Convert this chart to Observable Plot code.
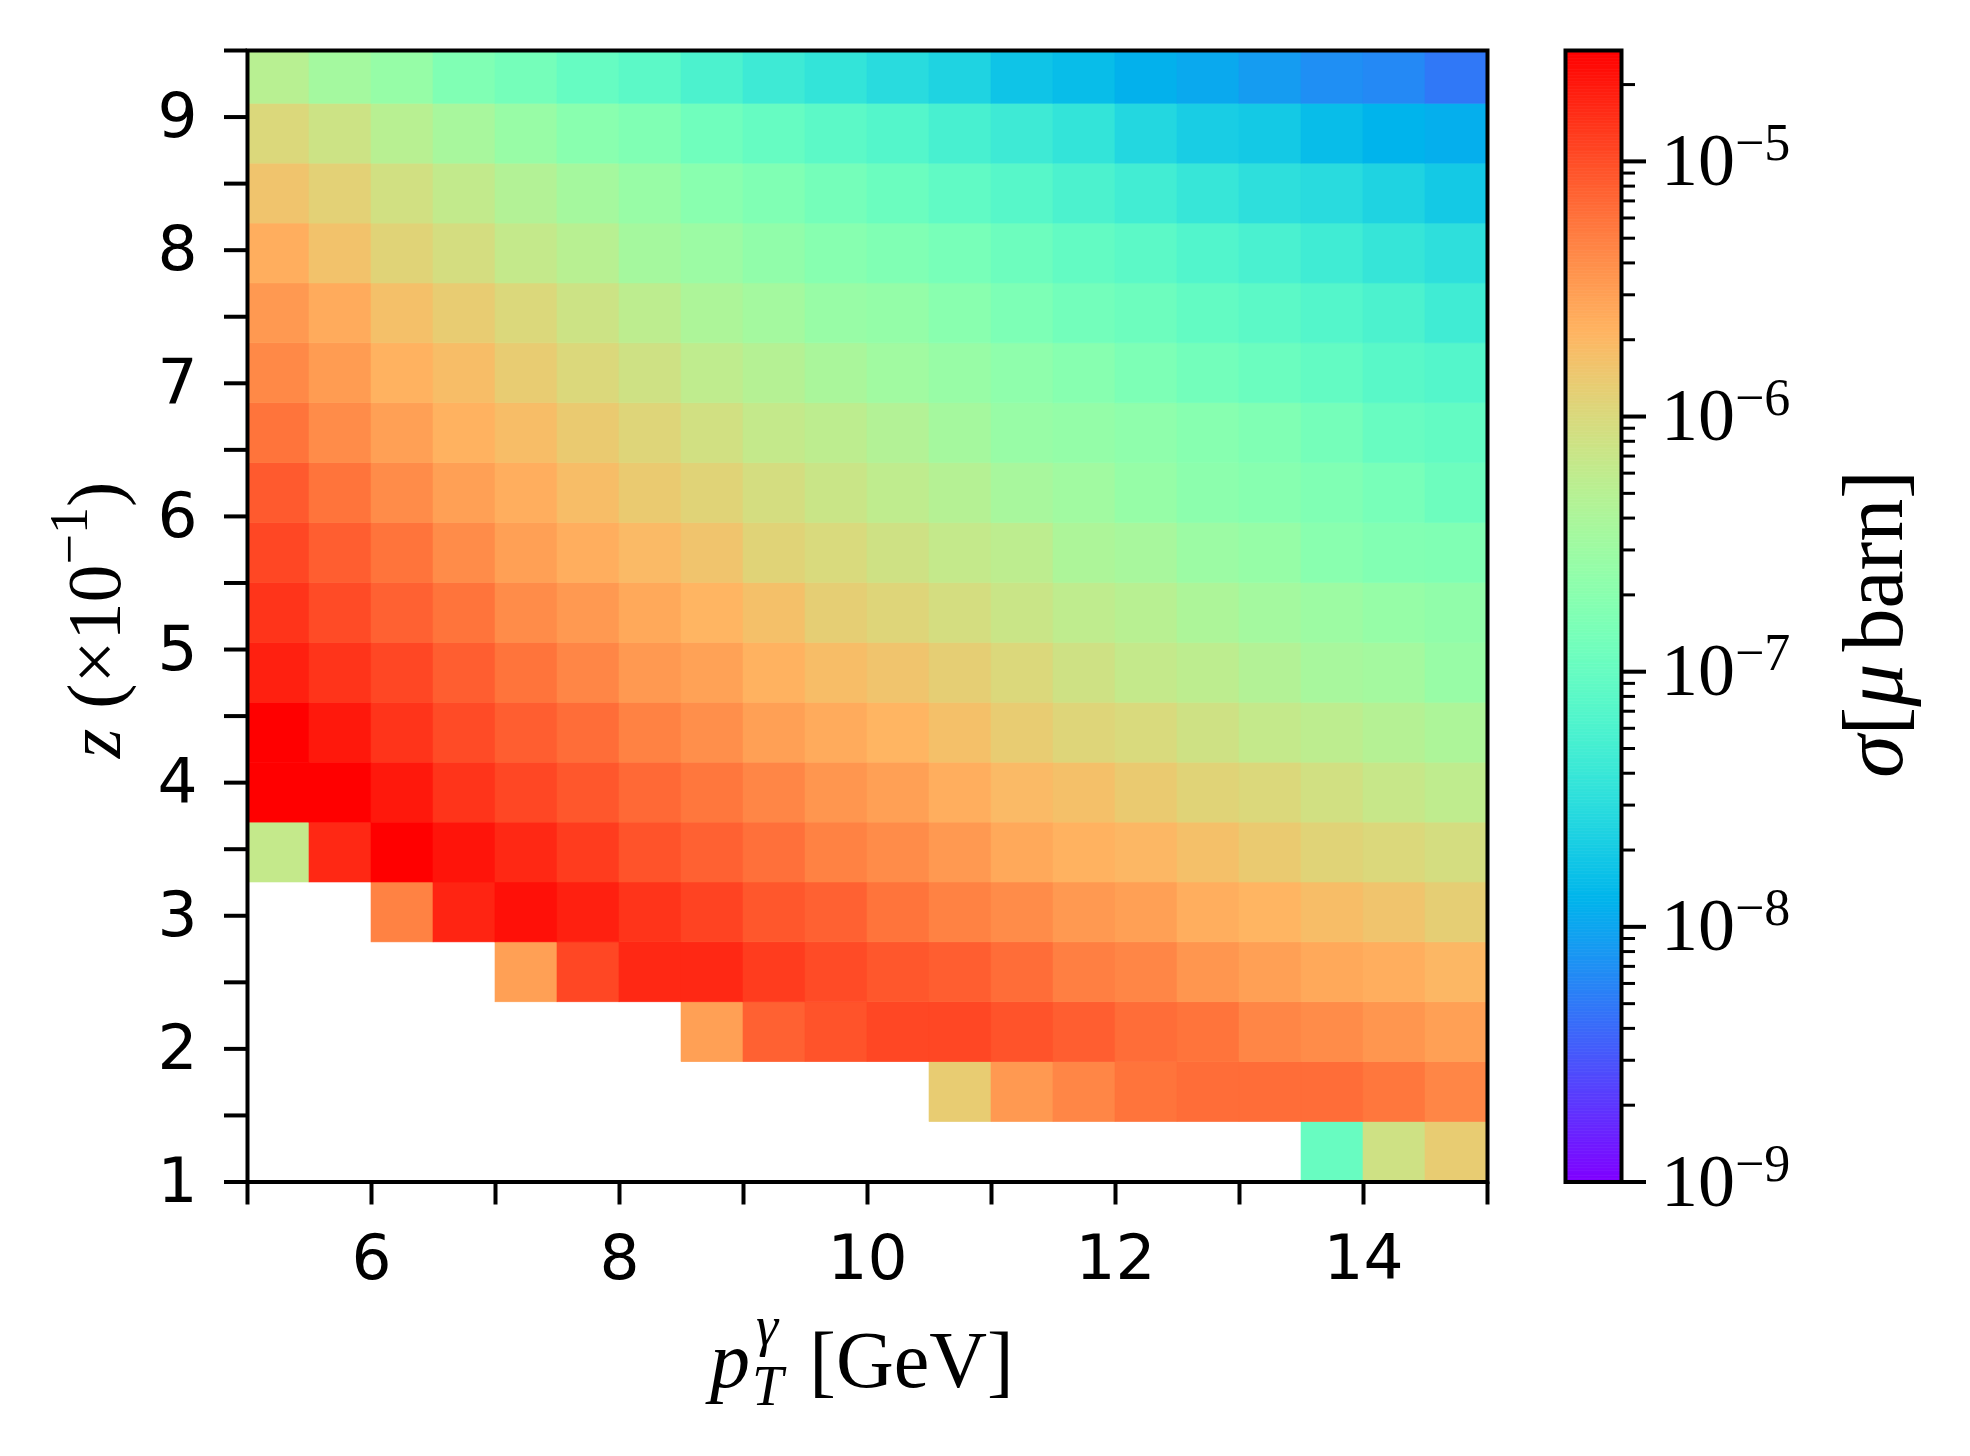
<!DOCTYPE html>
<html><head><meta charset="utf-8">
<script src="https://cdn.jsdelivr.net/npm/d3@7"></script>
<script src="https://cdn.jsdelivr.net/npm/@observablehq/plot@0.6"></script>
<style>
html,body{margin:0;padding:0;background:#fff;overflow:hidden;}
#fig{position:relative;width:1970px;height:1456px;background:#fff;}
#fig svg{position:absolute;left:0;top:0;}
</style></head><body><div id="fig"></div>
<script>
// ---- bin edges ----
const ptEdges = [5,5.5,6,6.5,7,7.5,8,8.5,9,9.5,10,10.5,11,11.5,12,12.5,13,13.5,14,14.5,15];
const zEdges = [1.00,1.45,1.90,2.35,2.80,3.25,3.70,4.15,4.60,5.05,5.50,5.95,6.40,6.85,7.30,7.75,8.20,8.65,9.10,9.55];

// ---- sigma [μbarn] per z bin (bottom to top), one value per pT bin (null = empty) ----
const s_z100 = [null,null,null,null,null,null,null,null,null,null,null,null,null,null,null,null,null,1.04e-7,8.0e-7,1.34e-6];
const s_z145 = [null,null,null,null,null,null,null,null,null,null,null,1.34e-6,3.35e-6,4.5e-6,5.9e-6,6.5e-6,6.5e-6,6.5e-6,5.6e-6,4.5e-6];
const s_z190 = [null,null,null,null,null,null,null,3.0e-6,7.6e-6,9.3e-6,1.08e-5,1.08e-5,9.3e-6,8.0e-6,6.5e-6,5.9e-6,4.5e-6,4.1e-6,3.5e-6,3.0e-6];
const s_z235 = [null,null,null,null,3.0e-6,1.08e-5,1.63e-5,1.63e-5,1.26e-5,1.03e-5,8.8e-6,8.0e-6,6.5e-6,5.0e-6,4.5e-6,3.5e-6,3.0e-6,2.6e-6,2.35e-6,2.0e-6];
const s_z280 = [null,null,4.8e-6,1.71e-5,2.21e-5,1.80e-5,1.40e-5,1.14e-5,8.8e-6,7.6e-6,5.9e-6,4.8e-6,4.1e-6,3.35e-6,3.0e-6,2.35e-6,2.1e-6,1.8e-6,1.56e-6,1.27e-6];
const s_z325 = [6.5e-7,1.63e-5,2.72e-5,2.10e-5,1.63e-5,1.26e-5,9.3e-6,7.6e-6,6.2e-6,4.8e-6,4.1e-6,3.35e-6,2.6e-6,2.2e-6,2.0e-6,1.7e-6,1.4e-6,1.15e-6,1.03e-6,8.9e-7];
const s_z370 = [2.72e-5,2.72e-5,2.0e-5,1.40e-5,1.08e-5,8.8e-6,6.8e-6,5.6e-6,4.5e-6,3.5e-6,3.0e-6,2.35e-6,1.9e-6,1.7e-6,1.4e-6,1.15e-6,1.03e-6,8.4e-7,6.9e-7,5.9e-7];
const s_z415 = [2.72e-5,2.0e-5,1.40e-5,1.03e-5,8.0e-6,6.5e-6,4.8e-6,3.9e-6,3.0e-6,2.5e-6,2.1e-6,1.7e-6,1.34e-6,1.09e-6,9.8e-7,8.0e-7,6.5e-7,5.6e-7,4.8e-7,4.1e-7];
const s_z460 = [1.80e-5,1.40e-5,1.08e-5,8.0e-6,5.9e-6,4.5e-6,3.35e-6,2.9e-6,2.2e-6,1.8e-6,1.56e-6,1.27e-6,1.03e-6,8.0e-7,6.5e-7,5.6e-7,4.6e-7,3.7e-7,3.4e-7,2.7e-7];
const s_z505 = [1.40e-5,1.03e-5,7.6e-6,5.9e-6,4.1e-6,3.35e-6,2.6e-6,2.1e-6,1.7e-6,1.27e-6,1.09e-6,8.9e-7,7.2e-7,5.9e-7,5.1e-7,4.1e-7,3.4e-7,3.0e-7,2.6e-7,2.35e-7];
const s_z550 = [1.08e-5,8.0e-6,5.9e-6,4.1e-6,3.0e-6,2.35e-6,1.9e-6,1.56e-6,1.15e-6,9.8e-7,8.0e-7,6.5e-7,5.6e-7,4.1e-7,3.7e-7,2.9e-7,2.6e-7,2.0e-7,1.73e-7,1.65e-7];
const s_z595 = [8.4e-6,5.9e-6,4.1e-6,3.0e-6,2.35e-6,1.8e-6,1.4e-6,1.15e-6,8.9e-7,7.2e-7,5.9e-7,4.8e-7,3.7e-7,3.2e-7,2.6e-7,2.13e-7,1.92e-7,1.65e-7,1.41e-7,1.15e-7];
const s_z640 = [5.9e-6,4.1e-6,3.0e-6,2.2e-6,1.8e-6,1.4e-6,1.09e-6,8.4e-7,6.5e-7,5.6e-7,4.6e-7,3.5e-7,2.7e-7,2.5e-7,2.24e-7,1.92e-7,1.65e-7,1.34e-7,1.04e-7,9.4e-8];
const s_z685 = [4.3e-6,3.2e-6,2.2e-6,1.8e-6,1.34e-6,1.03e-6,8.0e-7,5.9e-7,4.8e-7,3.9e-7,3.2e-7,2.7e-7,2.24e-7,1.92e-7,1.57e-7,1.28e-7,1.1e-7,9.4e-8,7.7e-8,6.9e-8];
const s_z730 = [3.35e-6,2.5e-6,1.7e-6,1.34e-6,1.03e-6,7.6e-7,5.6e-7,4.1e-7,3.4e-7,2.7e-7,2.5e-7,2.0e-7,1.57e-7,1.28e-7,1.15e-7,9.4e-8,8.1e-8,6.9e-8,5.9e-8,4.6e-8];
const s_z775 = [2.35e-6,1.64e-6,1.15e-6,8.9e-7,6.5e-7,5.1e-7,3.5e-7,2.9e-7,2.35e-7,1.92e-7,1.65e-7,1.41e-7,1.15e-7,9.4e-8,8.1e-8,6.6e-8,5.6e-8,4.6e-8,3.75e-8,3.2e-8];
const s_z820 = [1.56e-6,1.2e-6,8.4e-7,6.2e-7,4.6e-7,3.5e-7,2.7e-7,2.0e-7,1.65e-7,1.34e-7,1.1e-7,8.9e-8,7.3e-8,5.9e-8,4.8e-8,3.9e-8,3.2e-8,2.9e-8,2.4e-8,1.93e-8];
const s_z865 = [1.03e-6,7.6e-7,5.1e-7,3.7e-7,2.7e-7,2.0e-7,1.65e-7,1.2e-7,9.9e-8,8.1e-8,6.9e-8,5.4e-8,4.4e-8,3.6e-8,2.6e-8,2.1e-8,1.93e-8,1.5e-8,1.28e-8,1.16e-8];
const s_z910 = [5.1e-7,3.4e-7,2.6e-7,1.65e-7,1.34e-7,9.9e-8,8.1e-8,5.9e-8,4.4e-8,3.6e-8,2.9e-8,2.4e-8,1.74e-8,1.5e-8,1.22e-8,1.05e-8,8.5e-9,6.95e-9,6.3e-9,4.9e-9];
const sigmaRows = [s_z100,s_z145,s_z190,s_z235,s_z280,s_z325,s_z370,s_z415,s_z460,s_z505,s_z550,s_z595,s_z640,s_z685,s_z730,s_z775,s_z820,s_z865,s_z910];

// ---- ticks ----
const ptTicks = [5,6,7,8,9,10,11,12,13,14,15];
const ptTickLabels = ["","6","","8","","10","","12","","14",""];
const zTicks = [1,1.5,2,2.5,3,3.5,4,4.5,5,5.5,6,6.5,7,7.5,8,8.5,9,9.5];
const zTickLabels = ["1","","2","","3","","4","","5","","6","","7","","8","","9",""];
const cbMajor = [1e-9,1e-8,1e-7,1e-6,1e-5];
const cbExp = ["−9","−8","−7","−6","−5"];
const cbMinor = [2e-9,3e-9,4e-9,5e-9,6e-9,7e-9,8e-9,9e-9,2e-8,3e-8,4e-8,5e-8,6e-8,7e-8,8e-8,9e-8,
                 2e-7,3e-7,4e-7,5e-7,6e-7,7e-7,8e-7,9e-7,2e-6,3e-6,4e-6,5e-6,6e-6,7e-6,8e-6,9e-6,2e-5];
const cMin = 1e-9, cMax = 2.72e-5;

// matplotlib "rainbow" colormap
function rainbow(t) {
  t = Math.max(0, Math.min(1, t));
  const r = Math.min(1, Math.abs(2 * t - 0.5));
  const g = Math.max(0, Math.sin(Math.PI * t));
  const b = Math.max(0, Math.cos(Math.PI * t / 2));
  return d3.rgb(255 * r, 255 * g, 255 * b).formatHex();
}
const colorOpts = {type: "log", domain: [cMin, cMax], interpolate: rainbow, clamp: true};

const cells = [];
sigmaRows.forEach((row, r) => row.forEach((v, c) => {
  if (v != null) cells.push({x1: ptEdges[c], x2: ptEdges[c + 1], y1: zEdges[r], y2: zEdges[r + 1], sigma: v});
}));

const W = 1970, H = 1456;
const L = 247, R = 1487, T = 50, B = 1181.5;
const serif = "'Liberation Serif', 'DejaVu Serif', serif";

const main = Plot.plot({
  width: W, height: H,
  marginLeft: L, marginRight: W - R, marginTop: T, marginBottom: H - B,
  x: {domain: [5, 15]},
  y: {domain: [1, 9.5]},
  color: colorOpts,
  style: {fontFamily: "'DejaVu Sans', sans-serif", fontSize: "63px", color: "black", background: "transparent", overflow: "visible"},
  marks: [
    Plot.rect(cells, {x1: "x1", x2: "x2", y1: "y1", y2: "y2", fill: "sigma", stroke: "sigma", strokeWidth: 0.6, clip: true}),
    Plot.frame({stroke: "black", strokeWidth: 4}),
    Plot.axisX({ticks: ptTicks, tickSize: 23, tickPadding: 29, strokeWidth: 4, label: null,
      tickFormat: d => ptTickLabels[ptTicks.indexOf(d)]}),
    Plot.axisY({ticks: zTicks, tickSize: 23, tickPadding: 27, strokeWidth: 4, label: null,
      tickFormat: d => zTickLabels[zTicks.indexOf(d)]})
  ]
});

const nb = 400, l0 = Math.log10(cMin), l1 = Math.log10(cMax);
const bands = d3.range(nb).map(i => ({
  lo: 10 ** (l0 + (l1 - l0) * i / nb),
  hi: 10 ** (l0 + (l1 - l0) * (i + 1) / nb),
  mid: 10 ** (l0 + (l1 - l0) * (i + 0.5) / nb)
}));

const cbL = 1565, cbR = 1621;
const cbar = Plot.plot({
  width: W, height: H,
  marginLeft: cbL, marginRight: W - cbR, marginTop: T, marginBottom: H - B,
  x: {domain: [0, 1], axis: null},
  y: {type: "log", domain: [cMin, cMax]},
  color: colorOpts,
  style: {fontFamily: serif, fontSize: "10px", color: "black", background: "transparent", overflow: "visible"},
  marks: [
    Plot.rect(bands, {x1: 0, x2: 1, y1: "lo", y2: "hi", fill: "mid", stroke: "mid", strokeWidth: 0.6}),
    Plot.frame({stroke: "black", strokeWidth: 4}),
    Plot.axisY({anchor: "right", ticks: cbMajor, tickSize: 24, strokeWidth: 4, label: null, tickFormat: () => ""}),
    Plot.axisY({anchor: "right", ticks: cbMinor, tickSize: 13, strokeWidth: 3, label: null, tickFormat: () => ""})
  ]
});

const fig = document.getElementById("fig");
fig.appendChild(main);
fig.appendChild(cbar);

// colorbar tick labels 10^{-k}
const ys = cbar.scale("y");
const gcb = d3.select(cbar).append("g").attr("font-family", serif).attr("fill", "black").attr("text-anchor", "start");
cbMajor.forEach((v, i) => {
  const y = ys.apply(v);
  const t = gcb.append("text").attr("x", 1661).attr("y", y + 24).attr("font-size", 74).attr("text-anchor", "start");
  t.append("tspan").text("10");
  t.append("tspan").attr("font-size", 52).attr("dy", -25).text(cbExp[i]);
});

// colorbar label
const cl = gcb.append("text").attr("transform", "translate(1902,624) rotate(-90)")
  .attr("text-anchor", "middle").attr("font-size", 86);
cl.append("tspan").attr("font-style", "italic").text("σ");
cl.append("tspan").text("[");
cl.append("tspan").attr("font-style", "italic").text("μ");
cl.append("tspan").attr("dx", 12).text("barn]");

// axis titles
const gl = d3.select(main).append("g").attr("font-family", serif).attr("fill", "black");
const xl = gl.append("text").attr("x", 710).attr("y", 1387).attr("font-size", 80).attr("text-anchor", "start");
xl.append("tspan").attr("font-style", "italic").text("p");
xl.append("tspan").attr("font-style", "italic").attr("font-size", 56).attr("dx", 6).attr("dy", -42).text("γ");
xl.append("tspan").attr("font-style", "italic").attr("font-size", 56).attr("dx", -26).attr("dy", 60).text("T");
xl.append("tspan").attr("dx", 26).attr("dy", -18).text("[GeV]");

const yl = gl.append("text").attr("transform", "translate(120,620) rotate(-90)")
  .attr("text-anchor", "middle").attr("font-size", 76);
yl.append("tspan").attr("font-style", "italic").text("z");
yl.append("tspan").attr("dx", 20).text("(×10");
yl.append("tspan").attr("font-size", 54).attr("dy", -33).text("−1");
yl.append("tspan").attr("dy", 33).text(")");
</script>
</body></html>
